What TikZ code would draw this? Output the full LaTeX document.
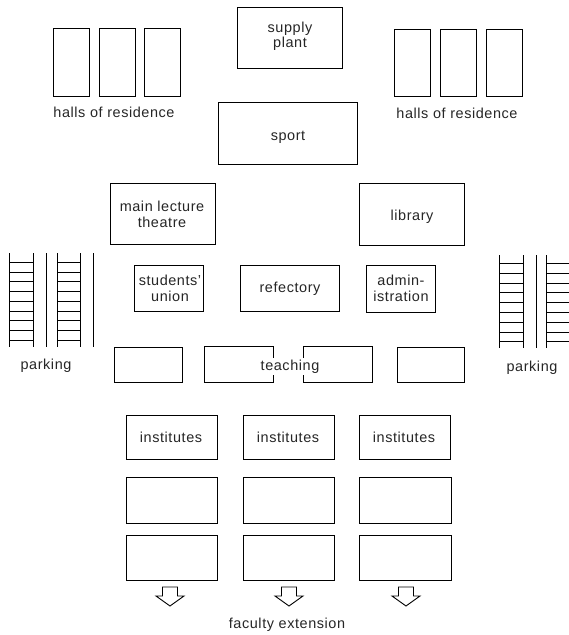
\documentclass[tikz,border=0pt]{standalone}
\usepackage{fontspec}
\setmainfont[LetterSpace=4]{Liberation Sans}
\newcommand{\bx}[5]{%
  \pgfmathsetmacro{\cxv}{(#2+#4)/2}\pgfmathsetmacro{\cyv}{(#3+#5)/2}%
  \pgfmathsetmacro{\wv}{#4-#2}\pgfmathsetmacro{\hv}{#5-#3}%
  \node[boxnode,minimum width=\wv bp,minimum height=\hv bp] (#1) at (\cxv,\cyv) {};}
\newcommand{\ladder}[4]{%
  \draw[railline] (#1,#3) -- (#1,#4);
  \draw[railline] (#2,#3) -- (#2,#4);}
\newcommand{\hollowarrow}[1]{%
  \draw[boxline] (#1-7.5,587) -- (#1+7.5,587) -- (#1+7.5,596) -- (#1+14,596) -- (#1,606) -- (#1-14,596) -- (#1-7.5,596) -- cycle;}
\tikzset{
  boxnode/.style={draw=black,line width=0.9bp,fill=white,inner sep=0pt,outer sep=0pt},
  boxline/.style={draw=black,line width=0.9bp,line join=miter},
  railline/.style={draw=black,line width=0.9bp},
  label/.style={inner sep=0pt,anchor=base,font=\fontsize{14.5}{16}\selectfont,text=black!85,align=center},
  teachlabel/.style={label,fill=white,inner xsep=1pt,inner ysep=2pt}
}
\begin{document}
\begin{tikzpicture}[x=1bp,y=-1bp]
\useasboundingbox (0,0) rectangle (569,635);
\bx{supply}{237}{7.5}{342}{68}
\bx{hl1}{53}{28.5}{89}{96}
\bx{hl2}{99}{28.5}{135}{96}
\bx{hl3}{144.5}{28.5}{180.5}{96}
\bx{hr1}{394}{29}{430}{96}
\bx{hr2}{440}{29}{476}{96}
\bx{hr3}{486}{29}{522}{96}
\bx{sport}{218.5}{102}{357}{164}
\bx{theatre}{110}{183}{215}{244}
\bx{library}{359}{183}{464}{245}
\bx{union}{134.5}{265}{203.5}{311}
\bx{refectory}{240}{265}{339}{311}
\bx{admin}{366.5}{265}{435}{312}
\bx{t1}{114}{347}{182}{382}
\bx{t2}{204}{346}{273}{382}
\bx{t3}{303}{346}{372}{382}
\bx{t4}{397}{347}{464}{382}
\bx{ia}{126}{415}{217}{459.5}
\bx{ib}{243}{415}{334}{459.5}
\bx{ic}{359}{415}{450.5}{459.5}
\bx{ja}{126}{477}{217}{523}
\bx{jb}{243}{477}{334}{523}
\bx{jc}{359}{477}{451}{523}
\bx{ka}{126}{535}{217}{580}
\bx{kb}{243}{535}{334}{580}
\bx{kc}{359}{535}{451}{580}
\node[label] (supplyt) at (290,48) {supply\\plant};
\node[label] (hallsl) at (114,118) {halls of residence};
\node[label] (hallsr) at (457,119) {halls of residence};
\node[label] (sportt) at (288,141) {sport};
\node[label] (theatret) at (162,227) {main lecture\\theatre};
\node[label] (libraryt) at (412,220) {library};
\node[label] (uniont) at (170,301) {students'\\union};
\node[label] (refectoryt) at (290,292) {refectory};
\node[label] (admint) at (401,301) {admin-\\istration};
\node[teachlabel] (teaching) at (290,370) {teaching};
\node[label] (iat) at (171,442) {institutes};
\node[label] (ibt) at (288,442) {institutes};
\node[label] (ict) at (404,442) {institutes};
\hollowarrow{170}
\hollowarrow{289}
\hollowarrow{406}
\node[label] (faculty) at (287,628) {faculty extension};
% left parking
\ladder{9}{33}{253}{347}
\ladder{57}{80}{253}{347}
\draw[railline] (46,253) -- (46,347);
\draw[railline] (93.5,253) -- (93.5,347);
\foreach \y in {262,272,281,291,301,311,320,330,340}{
  \draw[railline] (9,\y) -- (33,\y);
  \draw[railline] (57,\y) -- (80,\y);
}
\node[label] (parkl) at (46,369) {parking};
% right parking
\ladder{499}{523}{255}{348}
\draw[railline] (536,255) -- (536,348);
\draw[railline] (546,255) -- (546,348);
\foreach \y in {263,273,283,292,302,312,322,332,341}{
  \draw[railline] (499,\y) -- (523,\y);
  \draw[railline] (546,\y) -- (569,\y);
}
\node[label] (parkr) at (532,371) {parking};
\end{tikzpicture}
\end{document}
